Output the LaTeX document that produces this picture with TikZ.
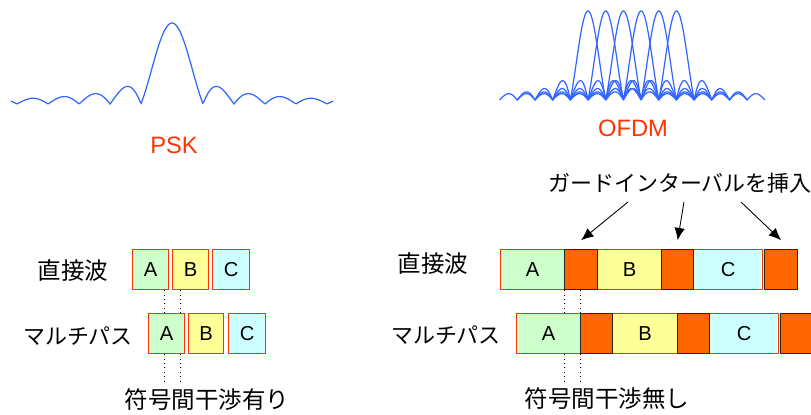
\documentclass[tikz,border=0pt]{standalone}
\usepackage{fontspec}
\setmainfont{Liberation Sans}
\newfontfamily\jpfont{Noto Sans CJK JP}
\usetikzlibrary{arrows.meta}

\definecolor{wave}{RGB}{51,102,255}
\definecolor{titlered}{RGB}{255,51,0}
\definecolor{edgered}{RGB}{255,51,0}
\definecolor{symA}{RGB}{204,255,204}
\definecolor{symB}{RGB}{255,255,153}
\definecolor{symC}{RGB}{204,255,255}
\definecolor{guardfill}{RGB}{255,102,0}

\begin{document}
\begin{tikzpicture}[x=0.02cm, y=-0.02cm,
    spec/.style={wave, line width=0.7pt},
    sym/.style={draw=edgered, line width=0.7pt, minimum height=0.8cm, inner sep=0pt,
        anchor=north west, font=\fontsize{11.5}{13}\selectfont},
    gi/.style={draw=black!85, fill=guardfill, line width=0.7pt, minimum height=0.8cm,
        inner sep=0pt, anchor=north west},
    jp/.style={font=\jpfont\fontsize{12.5}{14}\selectfont},
    jpk/.style={font=\jpfont\fontsize{13.4}{15}\selectfont},
    title/.style={text=titlered, font=\fontsize{13.5}{16}\selectfont},
    guide/.style={dotted, line width=0.5pt},
    ptr/.style={-{Latex[length=7pt,width=6pt]}, line width=0.5pt}]
    \useasboundingbox (0,0) rectangle (811,415);

    % PSK spectrum
    \draw[spec] plot[domain=-5.2:5.2, samples=300]
        ({172+31*\x}, {104-81*abs(sin(180*\x)/(pi*\x))});
    \node[title] (psk) at (174,145) {PSK};

    % OFDM spectrum, six carriers
    \foreach \k in {0,...,5}
        \draw[spec] plot[domain=-5:5, samples=200]
            ({588+17.7*\k+17.7*\x}, {100-89*abs(sin(180*\x)/(pi*\x))});
    \node[title] (ofdm) at (633,128) {OFDM};

    % single carrier: direct wave and multipath
    \node[jpk] (dlab) at (73,271) {直接波};
    \node[jp] (mlab) at (78,336) {マルチパス};
    \node[sym, fill=symA, minimum width=0.72cm] (dA) at (132,249) {A};
    \node[sym, fill=symB, minimum width=0.72cm] (dB) at (172,249) {B};
    \node[sym, fill=symC, minimum width=0.74cm] (dC) at (212,249) {C};
    \node[sym, fill=symA, minimum width=0.72cm] (mA) at (148,313) {A};
    \node[sym, fill=symB, minimum width=0.70cm] (mB) at (188,313) {B};
    \node[sym, fill=symC, minimum width=0.74cm] (mC) at (228,313) {C};

    \coordinate (g1) at (164,384);
    \coordinate (g2) at (180,384);
    \draw[guide] (g1 |- dA.south) -- (g1 |- mA.north) (g1 |- mA.south) -- (g1);
    \draw[guide] (g2 |- dA.south) -- (g2 |- mA.north) (g2 |- mA.south) -- (g2);
    \node[jpk] (isi1) at (207,400) {符号間干渉有り};

    % OFDM with guard interval
    \node[jpk] (odlab) at (433,264) {直接波};
    \node[jp] (omlab) at (446,335) {マルチパス};
    \node[sym, fill=symA, minimum width=1.28cm] (odA) at (500,249) {A};
    \node[sym, fill=symB, minimum width=1.28cm] (odB) at (597,249) {B};
    \node[sym, fill=symC, minimum width=1.38cm] (odC) at (693,249) {C};
    \node[gi, minimum width=0.66cm] (odG1) at (564,249) {};
    \node[gi, minimum width=0.64cm] (odG2) at (661,249) {};
    \node[gi, minimum width=0.66cm] (odG3) at (764,249) {};
    \node[sym, fill=symA, minimum width=1.28cm] (omA) at (516,313) {A};
    \node[sym, fill=symB, minimum width=1.30cm] (omB) at (612,313) {B};
    \node[sym, fill=symC, minimum width=1.38cm] (omC) at (709,313) {C};
    \node[gi, minimum width=0.64cm] (omG1) at (580,313) {};
    \node[gi, minimum width=0.64cm] (omG2) at (677,313) {};
    \node[gi, minimum width=0.66cm] (omG3) at (780,313) {};

    \coordinate (h1) at (564,384);
    \coordinate (h2) at (580,384);
    \draw[guide] (h1 |- odA.south) -- (h1 |- omA.north) (h1 |- omA.south) -- (h1);
    \draw[guide] (h2 |- odA.south) -- (h2 |- omA.north);
    \draw[guide] (h2 |- omA.south) -- (h2);
    \node[jpk] (isi2) at (607,399) {符号間干渉無し};

    % guard interval arrows
    \node[jp] (gitext) at (680,183) {ガードインターバルを挿入};
    \coordinate (a1) at (628,202);
    \coordinate (a2) at (684,202);
    \coordinate (a3) at (741,202);
    \draw[ptr] (a1) -- ([yshift=5pt]odG1.north);
    \draw[ptr] (a2) -- ([yshift=5pt]odG2.north);
    \draw[ptr] (a3) -- ([yshift=5pt]odG3.north);
\end{tikzpicture}
\end{document}
